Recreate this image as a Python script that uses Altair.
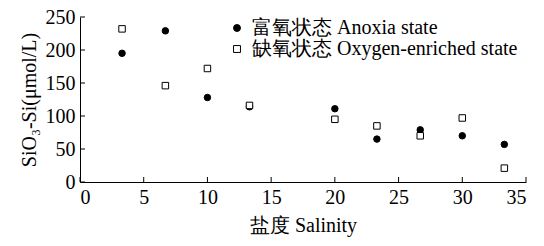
import altair as alt
import pandas as pd

salinity = [3.3, 6.7, 10, 13.3, 20, 23.3, 26.7, 30, 33.3]
anoxia = [195, 229, 128, 114, 111, 65, 79, 70, 57]
oxygen = [232, 146, 172, 116, 95, 85, 70, 97, 21]
labels = ["富氧状态 Anoxia state", "缺氧状态 Oxygen-enriched state"]
x_ticks = [0, 5, 10, 15, 20, 25, 30, 35]
y_ticks = [0, 50, 100, 150, 200, 250]

rows = []
for s, a, o in zip(salinity, anoxia, oxygen):
    rows.append({"salinity": s, "value": a, "state": labels[0]})
    rows.append({"salinity": s, "value": o, "state": labels[1]})
df = pd.DataFrame(rows)

FONT = "Liberation Serif"
FS = 20
W, H = 446, 165

xs = alt.Scale(domain=[0, 35], nice=False)
ys = alt.Scale(domain=[0, 250], nice=False)

xaxis = alt.Axis(values=x_ticks, ticks=False, labelPadding=5, titlePadding=8,
                 labelOverlap=False, labelFont=FONT, labelFontSize=FS,
                 titleFont=FONT, titleFontSize=FS, grid=False,
                 labelColor="black", titleColor="black", titleFontWeight="normal",
                 domainColor="black")
yaxis = alt.Axis(values=y_ticks, ticks=False, labelPadding=5, titlePadding=6,
                 labelOverlap=False, labelFont=FONT, labelFontSize=FS,
                 titleFont=FONT, titleFontSize=FS, grid=False,
                 labelColor="black", titleColor="black", titleFontWeight="normal",
                 domainColor="black")
XT = "盐度 Salinity"
YT = "SiO₃-Si(μmol/L)"

leg = alt.Legend(title=None, orient="none", legendX=147, legendY=1,
                 symbolStrokeColor="black", symbolStrokeWidth=1,
                 symbolSize=48, rowPadding=1, labelOffset=5,
                 labelFont=FONT, labelFontSize=FS, labelColor="black", labelLimit=500)

points = alt.Chart(df).mark_point(filled=True, opacity=1, strokeWidth=1, size=42).encode(
    x=alt.X("salinity:Q", scale=xs, title=XT, axis=xaxis),
    y=alt.Y("value:Q", scale=ys, title=YT, axis=yaxis),
    fill=alt.Fill("state:N", scale=alt.Scale(domain=labels, range=["black", "white"]), legend=leg),
    stroke=alt.Stroke("state:N", scale=alt.Scale(domain=labels, range=["black", "black"]), legend=leg),
    shape=alt.Shape("state:N", scale=alt.Scale(domain=labels, range=["circle", "square"]), legend=leg),
)

xt = alt.Chart(pd.DataFrame({"t": x_ticks})).mark_rule(color="black", strokeWidth=1).encode(
    x=alt.X("t:Q", scale=xs, title=XT, axis=xaxis), y=alt.value(H), y2=alt.value(H - 5)
)
yt = alt.Chart(pd.DataFrame({"t": y_ticks})).mark_rule(color="black", strokeWidth=1).encode(
    y=alt.Y("t:Q", scale=ys, title=YT, axis=yaxis), x=alt.value(0), x2=alt.value(5)
)

chart = alt.layer(points, xt, yt).properties(
    width=W, height=H,
    autosize=alt.AutoSizeParams(type="none"),
    padding={"left": 72, "top": 9, "right": 10, "bottom": 56},
).configure_view(stroke=None).configure_axis(
    domainColor="black", domainWidth=1, grid=False, labelOverlap=False,
    labelColor="black", titleColor="black", titleFontWeight="normal",
    labelFont=FONT, titleFont=FONT, labelFontSize=FS, titleFontSize=FS,
)

chart.save("out.html", embed_options={"renderer": "svg", "actions": False})
